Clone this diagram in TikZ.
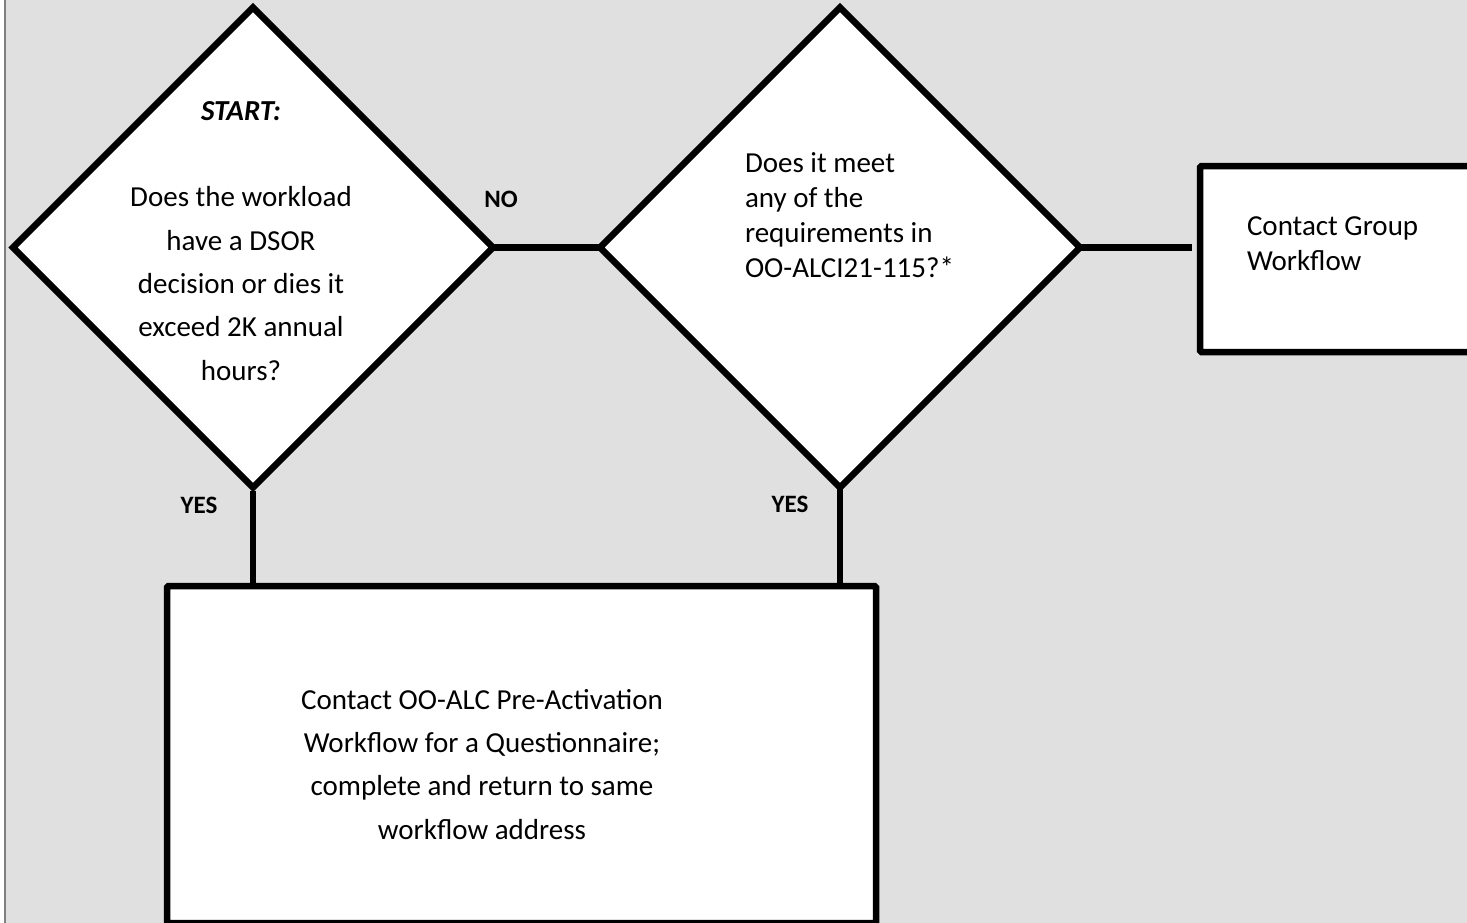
\documentclass[tikz,border=0pt]{standalone}
\usepackage{fontspec}
\setmainfont{Carlito}
\usetikzlibrary{shapes.geometric}
\definecolor{bggray}{HTML}{E0E0E0}
\definecolor{framegray}{HTML}{808080}
\begin{document}
\begin{tikzpicture}[x=1pt,y=-1pt,
  shapeline/.style={draw=black, line width=6.5pt, fill=white},
  link/.style={draw=black, line width=6.5pt},
  dec/.style={diamond, shapeline, minimum width=480pt, minimum height=480pt, inner sep=0pt, outer sep=0pt, aspect=1},
  boxnode/.style={rectangle, shapeline, inner sep=0pt, outer sep=0pt, rounded corners=1.5pt},
  body/.style={font=\fontsize{29}{35}\selectfont, inner sep=0pt, outer sep=0pt},
  bodywide/.style={font=\fontsize{29}{43.3}\selectfont, inner sep=0pt, outer sep=0pt},
  lab/.style={font=\bfseries\fontsize{25}{30}\selectfont, inner sep=0pt, outer sep=0pt}]
\useasboundingbox (0,0) rectangle (1467,922);
\clip (0,0) rectangle (1467,922);
\fill[white] (0,0) rectangle (1467,922);
\draw[fill=bggray, draw=framegray, line width=1.5pt] (5,-5) rectangle (1480,930);
% shapes
\node[dec] (d1) at (253,247.5) {};
\node[dec] (d2) at (840,247.5) {};
\node[boxnode, minimum width=320pt, minimum height=186pt, anchor=north west] (b1) at (1200,166) {};
\node[boxnode, minimum width=709pt, minimum height=337pt, anchor=north west] (b2) at (167,586) {};
% connectors
\draw[link] (d1.east) -- (d2.west);
\draw[link, shorten >=8pt] (d2.east) -- (d2.east -| b1.west);
\draw[link, shorten <=3pt] (d1.south) -- (d1.south |- b2.north);
\draw[link] (d2.south) -- (d2.south |- b2.north);
% texts
\node[bodywide, align=center, anchor=base] (t1) at (241,380)
  {\textbf{\textit{START:}}\\[43.3pt]Does the workload\\have a DSOR\\decision or dies it\\exceed 2K annual\\hours?};
\node[body, align=left, anchor=base west] (t2) at (745,277)
  {Does it meet\\any of the\\requirements in\\OO-ALCI21-115?*};
\node[body, align=left, anchor=base west] (t3) at (1247,270)
  {Contact Group\\Workflow};
\node[bodywide, align=center, anchor=base] (t4) at (482,839)
  {Contact OO-ALC Pre-Activation\\Workflow for a Questionnaire;\\complete and return to same\\workflow address};
% labels
\node[lab, anchor=base] (l1) at (501,207) {NO};
\node[lab, anchor=base] (l2) at (199,513) {YES};
\node[lab, anchor=base] (l3) at (790,512) {YES};
\end{tikzpicture}
\end{document}
